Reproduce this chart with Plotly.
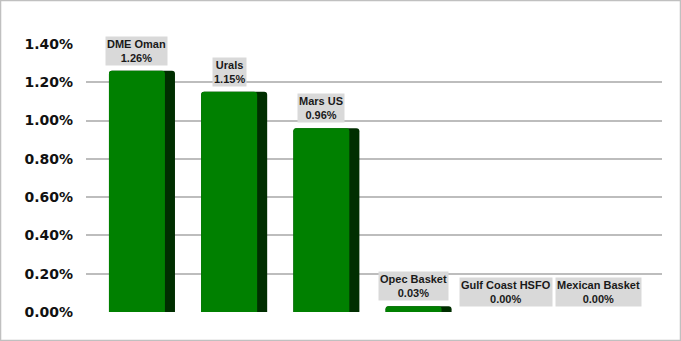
import plotly.graph_objects as go

categories = ["DME Oman", "Urals", "Mars US", "Opec Basket", "Gulf Coast HSFO", "Mexican Basket"]
values = [1.26, 1.15, 0.96, 0.03, 0.00, 0.00]
tick_vals = [0, 0.2, 0.4, 0.6, 0.8, 1.0, 1.2, 1.4]
tick_text = ["0.00%", "0.20%", "0.40%", "0.60%", "0.80%", "1.00%", "1.20%", "1.40%"]

xs = list(range(len(categories)))

fig = go.Figure()
# dark side (3D effect)
fig.add_trace(go.Bar(x=xs, y=values, width=0.716, offset=-0.358,
                     marker=dict(color="#002E00", line=dict(width=0), cornerradius=3),
                     hoverinfo="skip", showlegend=False))
# front face
fig.add_trace(go.Bar(x=xs, y=values, width=0.607, offset=-0.358,
                     marker=dict(color="#008000", line=dict(width=0), cornerradius=3),
                     text=categories, textposition="none", showlegend=False))

for i, (c, v) in enumerate(zip(categories, values)):
    fig.add_annotation(x=i - 0.054, y=v, xref="x", yref="y",
                       text=f"{c}<br>{v:.2f}%", showarrow=False,
                       yanchor="bottom", yshift=5,
                       bgcolor="#D9D9D9", borderpad=1,
                       font=dict(family="Liberation Sans, Arial", size=11, color="#1a1a1a", weight="bold"))

# outer border
fig.add_shape(type="rect", xref="paper", yref="paper",
              x0=-0.1484, x1=1.0321, y0=-0.106, y1=1.162,
              line=dict(color="#C0C0C0", width=1.5), layer="below")

fig.update_layout(
    width=681, height=341,
    margin=dict(l=86, r=19, t=44, b=29),
    paper_bgcolor="white", plot_bgcolor="white",
    barmode="overlay",
    xaxis=dict(range=[-0.607, 5.64], showticklabels=False, showgrid=False,
               zeroline=False, showline=False, fixedrange=True),
    yaxis=dict(range=[0, 1.4], tickvals=tick_vals, ticktext=tick_text,
               showgrid=True, gridcolor="#BDBDBD", gridwidth=1.5,
               zeroline=False, showline=False, ticklabelstandoff=12,
               tickfont=dict(family="Verdana, DejaVu Sans", size=14, color="#111111", weight="bold")),
)

fig.write_html("out.html")
